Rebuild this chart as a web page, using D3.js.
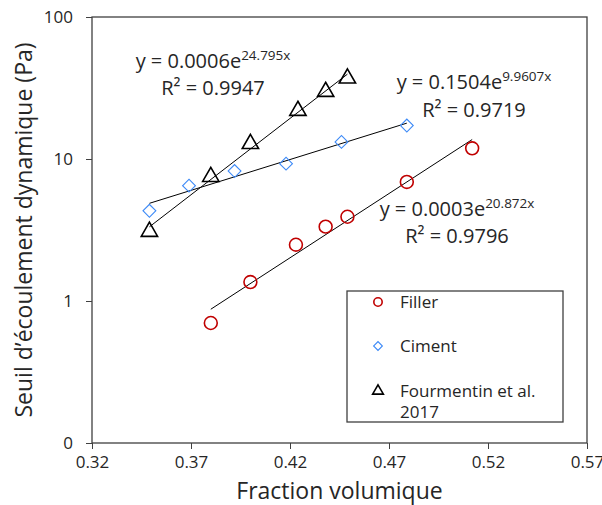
<!DOCTYPE html>
<html>
<head>
<meta charset="utf-8">
<script src="https://cdn.jsdelivr.net/npm/d3@7"></script>
<style>
  body { margin: 0; background: #fff; }
  text { font-family: 'Open Sans', sans-serif; fill: #262626; }
</style>
</head>
<body>
<div id="chart"></div>
<script>
// values
let fillerX = [0.380, 0.400, 0.423, 0.438, 0.449, 0.479, 0.512]
let fillerY = [0.70, 1.36, 2.49, 3.34, 3.92, 6.89, 11.9]
let cimentX = [0.349, 0.369, 0.392, 0.418, 0.446, 0.479]
let cimentY = [4.32, 6.49, 8.23, 9.27, 13.2, 17.2]
let fourX = [0.349, 0.380, 0.400, 0.424, 0.438, 0.449]
let fourY = [3.08, 7.50, 12.8, 21.9, 29.8, 37.0]

let xTicks = [0.32, 0.37, 0.42, 0.47, 0.52, 0.57]
let yTicks = [0.1, 1, 10, 100]
let yTickLabels = ['0', '1', '10', '100']

let seriesNames = ['Filler', 'Ciment', 'Fourmentin et al. 2017']
let equations = [
  { base: 'y = 0.0003e', exp: '20.872x', r2: 'R² = 0.9796' },
  { base: 'y = 0.1504e', exp: '9.9607x', r2: 'R² = 0.9719' },
  { base: 'y = 0.0006e', exp: '24.795x', r2: 'R² = 0.9947' }
]

let margin = { top: 17, left: 92, right: 15, bottom: 62 }
let width = 602 - margin.left - margin.right
let height = 505 - margin.top - margin.bottom

let svg = d3.select('#chart')
  .append('svg')
  .attr('width', 602)
  .attr('height', 505)

let g = svg.append('g')
  .attr('transform', `translate(${margin.left},${margin.top})`)

let x = d3.scaleLinear().domain([0.32, 0.57]).range([0, width])
let y = d3.scaleLog().domain([0.1, 100]).range([height, 0])

let axisColor = '#404040'

// axes
let xAxis = g.append('g')
  .attr('transform', `translate(0,${height})`)
  .call(d3.axisBottom(x).tickValues(xTicks).tickFormat(d3.format('.2f')).tickSize(6).tickPadding(7))
let yAxis = g.append('g')
  .call(d3.axisLeft(y).tickValues(yTicks).tickFormat((d, i) => yTickLabels[i]).tickSize(6).tickPadding(13))

;[xAxis, yAxis].forEach(a => {
  a.select('.domain').remove()
  a.selectAll('line').attr('stroke', axisColor)
  a.selectAll('text')
    .style('font-family', "'Open Sans', sans-serif")
    .style('font-size', '17px')
    .attr('fill', '#262626')
})

// frame
g.append('rect')
  .attr('width', width)
  .attr('height', height)
  .attr('fill', 'none')
  .attr('stroke', axisColor)
  .attr('stroke-width', 1.3)

// exponential trend lines (least squares on ln y)
function expFit(xs, ys) {
  let ly = ys.map(Math.log)
  let mx = d3.mean(xs), my = d3.mean(ly)
  let b = d3.sum(xs, (v, i) => (v - mx) * (ly[i] - my)) / d3.sum(xs, v => (v - mx) * (v - mx))
  let a = Math.exp(my - b * mx)
  return v => a * Math.exp(b * v)
}

let line = d3.line().x(d => x(d[0])).y(d => y(d[1]))

let series = [
  { xs: fillerX, ys: fillerY },
  { xs: cimentX, ys: cimentY },
  { xs: fourX, ys: fourY }
]

series.forEach(s => {
  let f = expFit(s.xs, s.ys)
  let ext = d3.extent(s.xs)
  g.append('path')
    .attr('d', line(ext.map(v => [v, f(v)])))
    .attr('fill', 'none')
    .attr('stroke', '#000')
    .attr('stroke-width', 1)
})

let red = '#c00000'
let blue = '#3d8af7'

// markers (diamond = square turned 45 degrees)
let symbols = [
  { type: d3.symbolCircle, size: 130, color: red, sw: 1.6, rot: 0 },
  { type: d3.symbolSquare, size: 82, color: blue, sw: 1.1, rot: 45 },
  { type: d3.symbolTriangle, size: 115, color: '#000', sw: 1.6, rot: 0 }
]

series.forEach((s, k) => {
  g.selectAll('.pt' + k)
    .data(s.xs.map((v, i) => [v, s.ys[i]]))
    .enter()
    .append('path')
    .attr('class', 'pt' + k)
    .attr('d', d3.symbol().type(symbols[k].type).size(symbols[k].size))
    .attr('transform', d => `translate(${x(d[0])},${y(d[1])}) rotate(${symbols[k].rot})`)
    .attr('fill', 'none')
    .attr('stroke', symbols[k].color)
    .attr('stroke-width', symbols[k].sw)
})

// equation labels
let eqPos = [
  { cx: 457, y1: 216, y2: 243 },
  { cx: 474, y1: 89, y2: 117 },
  { cx: 213, y1: 68, y2: 95 }
]

equations.forEach((e, i) => {
  let t = svg.append('text')
    .attr('x', eqPos[i].cx)
    .attr('y', eqPos[i].y1)
    .attr('text-anchor', 'middle')
    .style('font-size', '20px')
  t.append('tspan').text(e.base)
  t.append('tspan').text(e.exp).attr('dy', -8).style('font-size', '13.5px')
  svg.append('text')
    .attr('x', eqPos[i].cx)
    .attr('y', eqPos[i].y2)
    .attr('text-anchor', 'middle')
    .style('font-size', '20px')
    .text(e.r2)
})

// legend
let legend = svg.append('g')
legend.append('rect')
  .attr('x', 347)
  .attr('y', 291)
  .attr('width', 216)
  .attr('height', 131)
  .attr('fill', '#fff')
  .attr('stroke', axisColor)
  .attr('stroke-width', 1.3)

let legendY = [302, 346, 391]
let legendSymbols = [
  { type: d3.symbolCircle, size: 55 },
  { type: d3.symbolSquare, size: 38 },
  { type: d3.symbolTriangle, size: 50 }
]

seriesNames.forEach((name, i) => {
  legend.append('path')
    .attr('d', d3.symbol().type(legendSymbols[i].type).size(legendSymbols[i].size))
    .attr('transform', `translate(378,${legendY[i]}) rotate(${symbols[i].rot})`)
    .attr('fill', 'none')
    .attr('stroke', symbols[i].color)
    .attr('stroke-width', symbols[i].sw)
  let t = legend.append('text')
    .attr('x', 400)
    .attr('y', legendY[i] + 6)
    .style('font-size', '17px')
  if (name === 'Fourmentin et al. 2017') {
    t.append('tspan').attr('x', 400).text('Fourmentin et al.')
    t.append('tspan').attr('x', 400).attr('dy', 21).text('2017')
  } else {
    t.text(name)
  }
})

// axis titles
svg.append('text')
  .attr('x', margin.left + width / 2)
  .attr('y', 499)
  .attr('text-anchor', 'middle')
  .style('font-size', '23px')
  .text('Fraction volumique')

svg.append('text')
  .attr('transform', `translate(32,${margin.top + height / 2}) rotate(-90)`)
  .attr('text-anchor', 'middle')
  .style('font-size', '23px')
  .text('Seuil d\u2019écoulement dynamique (Pa)')
</script>
</body>
</html>
